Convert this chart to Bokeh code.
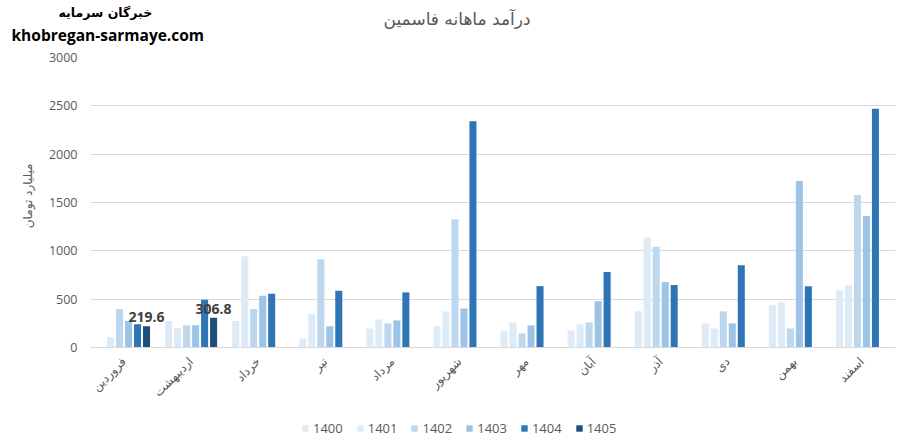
import math
from bokeh.plotting import figure
from bokeh.models import ColumnDataSource, Legend, LegendItem, Title, FixedTicker
from bokeh.transform import dodge
from bokeh.core.properties import value
from bokeh.embed import file_html
from bokeh.resources import INLINE

NaN = float("nan")

months = ["فروردین", "اردیبهشت", "خرداد", "تیر", "مرداد", "شهریور",
          "مهر", "آبان", "آذر", "دی", "بهمن", "اسفند"]
years = ["1400", "1401", "1402", "1403", "1404", "1405"]

y1400 = [NaN, 273, 273, 94, 197, 218, 167, 177, 375, 249, 436, 592]
y1401 = [105, 199, 944, 346, 290, 373, 260, 240, 1135, 197, 467, 644]
y1402 = [399, 231, 399, 913, 249, 1326, 146, 260, 1042, 374, 197, 1578]
y1403 = [273, 231, 535, 220, 280, 404, 229, 479, 677, 249, 1723, 1360]
y1404 = [241, 493, 556, 587, 570, 2341, 635, 781, 646, 851, 633, 2471]
y1405 = [219.6, 306.8, NaN, NaN, NaN, NaN, NaN, NaN, NaN, NaN, NaN, NaN]
y_ticks = [0, 500, 1000, 1500, 2000, 2500, 3000]

colors = ["#DEEAF6", "#DDEBF7", "#BDD7EE", "#9DC3E6", "#2E75B6", "#1F4E79"]

title_text = "درآمد ماهانه فاسمین"
brand_fa = "خبرگان سرمایه"
brand_en = "khobregan-sarmaye.com"
y_title = "میلیارد تومان"

series = [y1400, y1401, y1402, y1403, y1404, y1405]
src = ColumnDataSource(dict(month=months, **{y: s for y, s in zip(years, series)},
                            lbl=[("%.1f" % v) if not math.isnan(v) else "" for v in y1405]))

GRAY = "#595959"
FW = 805
PLOT_H = 290            # pixels from 0 to 3000
EXTRA = 93              # room under the zero line for labels and legend
ppu = PLOT_H / 3000.0
p = figure(x_range=months, y_range=(-EXTRA / ppu, 3000), frame_width=FW,
           frame_height=PLOT_H + EXTRA,
           output_backend="svg", toolbar_location=None,
           min_border_left=90, min_border_right=5, min_border_top=57, min_border_bottom=0)
p.outline_line_color = None
p.xgrid.grid_line_color = None
tick = FixedTicker(ticks=y_ticks)
p.yaxis.ticker = tick
p.ygrid.ticker = tick
p.ygrid.grid_line_color = "#d9d9d9"
p.ygrid.grid_line_width = 1
p.yaxis.axis_line_color = None
p.yaxis.major_tick_line_color = None
p.yaxis.minor_tick_line_color = None
p.yaxis.major_tick_out = 0
p.yaxis.major_tick_in = 0
p.yaxis.major_label_standoff = 13
p.yaxis.major_label_text_font = "Open Sans"
p.yaxis.major_label_text_font_size = "12.5px"
p.yaxis.major_label_text_color = GRAY

p.xaxis.fixed_location = 0
p.xaxis.axis_line_color = "#d9d9d9"
p.xaxis.major_tick_line_color = None
p.xaxis.minor_tick_line_color = None
p.xaxis.major_tick_out = 0
p.xaxis.major_tick_in = 0
p.xaxis.major_label_orientation = math.pi / 4
p.xaxis.major_label_standoff = 12
p.xaxis.major_label_text_font = "DejaVu Sans"
p.xaxis.major_label_text_font_size = "12px"
p.xaxis.major_label_text_color = GRAY

slot = 0.134
bw = 0.105
items = []
for i, (yr, c) in enumerate(zip(years, colors)):
    r = p.vbar(x=dodge("month", (i - 2.5) * slot, range=p.x_range), top=yr, bottom=0,
               width=bw, source=src, fill_color=c, line_color=None)
    items.append(LegendItem(label=yr, renderers=[r]))

p.text(x=dodge("month", 2.5 * slot, range=p.x_range), y="1405", text="lbl", source=src,
       text_align="center", text_baseline="bottom", y_offset=-4,
       text_font=value("Open Sans"), text_font_style="bold", text_font_size="14px",
       text_color="#404040")

legend = Legend(items=items, orientation="horizontal", location=(211, 3),
                glyph_width=8, glyph_height=8, label_standoff=4, spacing=13,
                label_text_font="Open Sans", label_text_font_size="13px",
                label_text_color=GRAY, border_line_color=None,
                background_fill_alpha=0, padding=0, margin=0)
p.add_layout(legend)

# y-axis title as a rotated title in the left panel
p.add_layout(Title(text=y_title, align="right", offset=106, standoff=22,
                   text_font="DejaVu Sans", text_font_style="normal",
                   text_font_size="12px", text_color=GRAY), "left")

# titles stacked above the frame (first added is nearest the frame)
p.add_layout(Title(text=brand_en, align="left", offset=-79, standoff=24,
                   text_font="Open Sans", text_font_style="bold",
                   text_font_size="15.5px", text_color="#000000"), "above")
p.add_layout(Title(text=title_text, align="left", offset=293, standoff=-39,
                   text_font="DejaVu Sans", text_font_style="normal",
                   text_font_size="17px", text_color=GRAY), "above")
p.add_layout(Title(text=brand_fa, align="left", offset=-32, standoff=-21,
                   text_font="DejaVu Sans", text_font_style="bold",
                   text_font_size="12.5px", text_color="#000000"), "above")

open("out.html", "w").write(file_html(p, INLINE))
